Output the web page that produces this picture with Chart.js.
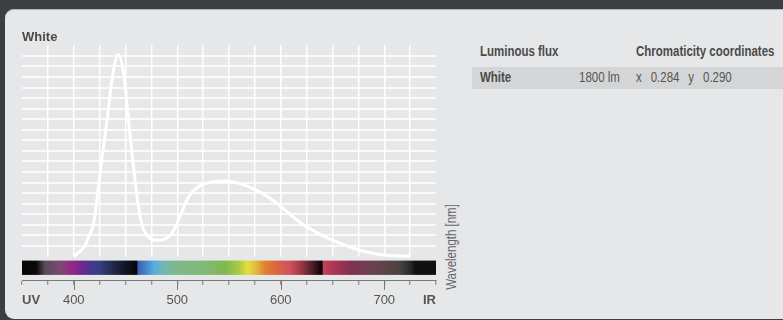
<!DOCTYPE html>
<html>
<head>
<meta charset="utf-8">
<script src="https://cdn.jsdelivr.net/npm/chart.js@4/dist/chart.umd.min.js"></script>
<style>
    body { margin: 0; width: 783px; height: 320px; background: #3b3e42; overflow: hidden; position: relative;
           font-family: "Liberation Sans", Arial, sans-serif; }
    #panel { position: absolute; left: 5px; top: 9px; width: 800px; height: 310px; background: #e6e7e8;
             border-radius: 9px 0 0 9px; box-shadow: inset 0 1px 0 #b3b5b7; }
    #spectrum { position: absolute; left: 0; top: 0; }
    /* 좁은 글꼴이 없어서 가로로 눌러서 사용 */
    .txt { position: absolute; font-size: 14px; line-height: 17px; color: #555; white-space: nowrap;
           transform-origin: 0 50%; transform: scaleX(0.82); }
    .bold { font-weight: bold; color: #4a4a4a; }
    #band { position: absolute; left: 472px; top: 67px; width: 311px; height: 22px; background: #d4d5d6; }
    #axisTitle { left: 451px; top: 247px; color: #666; transform-origin: 50% 50%;
                 transform: translate(-50%, -50%) rotate(-90deg) scaleX(0.82); }
</style>
</head>
<body>
<div id="panel"></div>
<div id="band"></div>
<div class="txt bold" style="left:480px; top:43px;">Luminous flux</div>
<div class="txt bold" style="left:636px; top:43px;">Chromaticity coordinates</div>
<div class="txt bold" style="left:480px; top:69px;">White</div>
<div class="txt" style="left:579px; top:69px;">1800 lm</div>
<div class="txt" style="left:636px; top:69px; word-spacing:7px;">x 0.284 y 0.290</div>
<div class="txt" id="axisTitle">Wavelength [nm]</div>
<canvas id="spectrum" width="783" height="320"></canvas>
<script>
// 스펙트럼 데이터 (파장 nm / 상대 세기)
const wavelengths = [400, 410, 414, 419, 425, 432, 438, 443, 448, 453, 458, 464, 470, 480, 493, 503, 512, 525, 543, 557, 574, 590, 606, 619, 635, 651, 667, 683, 702, 725];
const intensity   = [0, 0.9, 1.8, 3.0, 7.6, 12.8, 17.4, 19.1, 17.4, 12.8, 8.3, 3.9, 2.1, 1.55, 2.0, 3.9, 5.8, 6.85, 7.15, 7.0, 6.4, 5.5, 4.25, 3.2, 2.27, 1.5, 0.9, 0.43, 0.12, 0.03];

// X축 눈금 라벨
const tickLabels = { 350: 'UV', 400: '400', 500: '500', 600: '600', 700: '700', 750: 'IR' };

// 컬러 바 (파장 / 색상)
const barStops  = [350, 364, 372, 387, 398, 408, 422, 425, 440, 450, 461, 462, 472, 478, 488, 502, 527, 546, 559, 568, 576, 585, 599, 609, 618, 630, 640, 641, 653, 667, 686, 701, 715, 725, 730, 750];
const barColors = ['#050505', '#0a0a0a', '#5a4a58', '#7a4a72', '#962685', '#6a2a8e', '#383d8a', '#35407a', '#202545', '#121425', '#050508',
                   '#3a5fb0', '#4a90d0', '#58b0e0', '#72b8a8', '#80b888', '#82b878', '#80b850', '#a8c844', '#e2e040', '#e4b83c', '#e08030',
                   '#d86048', '#d05060', '#a83a48', '#502028', '#0a0005', '#c24258', '#a83450', '#843050', '#6c4050', '#5e4446', '#4a4242',
                   '#2a2a2a', '#111111', '#101010'];

const FONT = '"Liberation Sans", Arial, sans-serif';
const PANEL = '#e6e7e8';

// 컬러 바 + 눈금 보정 플러그인
const spectrumBarPlugin = {
    id: 'spectrumBar',
    beforeDatasetsDraw(chart) {
        const { ctx, chartArea, scales: { x, y } } = chart;
        const y0 = y.getPixelForValue(0);
        ctx.save();
        // 0 아래 세로 격자 지우기
        ctx.fillStyle = PANEL;
        ctx.fillRect(chartArea.left - 1, y0, chartArea.right - chartArea.left + 2, chartArea.bottom - 1 - y0);
        // 컬러 바
        const x1 = x.getPixelForValue(barStops[0]);
        const x2 = x.getPixelForValue(barStops[barStops.length - 1]);
        const grad = ctx.createLinearGradient(x1, 0, x2, 0);
        barStops.forEach((w, i) => grad.addColorStop((w - barStops[0]) / (barStops[barStops.length - 1] - barStops[0]), barColors[i]));
        ctx.fillStyle = grad;
        ctx.fillRect(x1, y0 + 4, x2 - x1, chartArea.bottom - 6 - (y0 + 4));
        ctx.restore();
    },
    afterDraw(chart) {
        // 100nm 단위 큰 눈금
        const { ctx, chartArea, scales: { x } } = chart;
        ctx.save();
        ctx.strokeStyle = '#7a7a7a';
        ctx.lineWidth = 1;
        [400, 500, 600, 700].forEach((v) => {
            const px = Math.round(x.getPixelForValue(v)) + 0.5;
            ctx.beginPath();
            ctx.moveTo(px, chartArea.bottom);
            ctx.lineTo(px, chartArea.bottom + 9);
            ctx.stroke();
        });
        ctx.restore();
    }
};

// 차트 생성
function createSpectrumChart(chartid){
    const ctx = document.getElementById(chartid);
    const points = wavelengths.map((w, i) => ({ x: w, y: intensity[i] }));

    return new Chart(ctx, {
        type: 'line',
        data: {
            datasets: [{
                label: 'White',
                data: points,
                borderColor: '#ffffff',
                borderWidth: 3,
                pointRadius: 0,
                fill: false,
                tension: 0.4
            }]
        },
        options: {
            responsive: false,
            animation: false,
            layout: { padding: { left: 22, right: 347, top: 29, bottom: 4.2 } },
            plugins: {
                legend: { display: false },
                tooltip: { enabled: false },
                title: {
                    display: true,
                    text: 'White',
                    align: 'start',
                    color: '#4a4a4a',
                    font: { family: FONT, size: 13, weight: 'bold', lineHeight: 1.25 },
                    padding: { top: 0, bottom: 0 }
                }
            },
            scales: {
                x: {
                    type: 'linear',
                    min: 350,
                    max: 750,
                    grid: {
                        color: (c) => (c.tick && c.tick.value > 350 && c.tick.value < 750) ? 'rgba(255,255,255,0.95)' : 'rgba(0,0,0,0)',
                        lineWidth: 1.5,
                        drawTicks: true,
                        tickLength: 4,
                        tickColor: '#7a7a7a',
                        tickWidth: 1
                    },
                    border: { display: true, color: '#7a7a7a', width: 1 },
                    ticks: {
                        stepSize: 25,
                        autoSkip: false,
                        maxRotation: 0,
                        align: 'inner',
                        padding: 7,
                        color: '#555',
                        font: (c) => ({ family: FONT, size: 13, lineHeight: 1.3, weight: (c.tick && (c.tick.value === 350 || c.tick.value === 750)) ? 'bold' : 'normal' }),
                        callback: (v) => tickLabels[v] || ''
                    }
                },
                y: {
                    min: -2.3,
                    max: 20,
                    grid: {
                        color: (c) => (c.tick && c.tick.value >= 1 && c.tick.value <= 19) ? 'rgba(255,255,255,0.8)' : 'rgba(0,0,0,0)',
                        lineWidth: 2,
                        drawTicks: false
                    },
                    border: { display: false },
                    ticks: { display: false, stepSize: 1 }
                }
            }
        },
        plugins: [spectrumBarPlugin]
    });
}

createSpectrumChart('spectrum');
</script>
</body>
</html>
